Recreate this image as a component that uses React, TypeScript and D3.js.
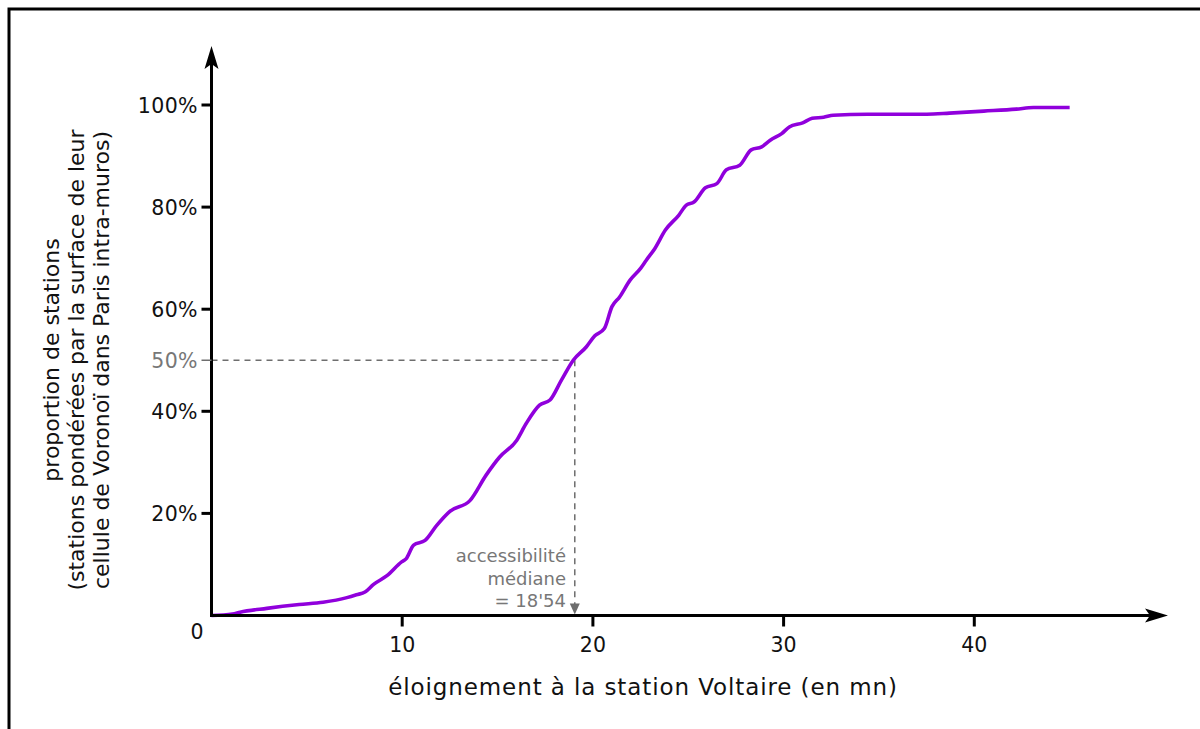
import React, { useEffect, useRef } from "react";
import * as d3 from "d3";

// Data: minutes vs cumulative share (%)
const minutes = [0, 1.1, 1.5, 2.9, 4.6, 5.85, 7.1, 7.6, 8.05, 8.5, 9.2, 9.97, 10.2, 10.6, 11.2, 11.8, 12.5, 13.55, 14.4, 15.1, 16.0, 16.5, 17.2, 17.75, 18.35, 18.97, 19.65, 20.1, 20.6, 21.0, 21.4, 21.95, 22.5, 22.8, 23.25, 23.8, 24.5, 24.9, 25.3, 25.9, 26.5, 27.0, 27.7, 28.3, 28.85, 29.3, 29.9, 30.3, 31.0, 31.5, 32.1, 32.6, 34.4, 37.5, 38.7, 40.5, 42.2, 43.1, 45.0];
const shares = [0, 0.3, 0.65, 1.4, 2.15, 2.6, 3.5, 4.05, 4.6, 6.1, 7.8, 10.5, 11.1, 13.8, 14.7, 17.6, 20.4, 22.5, 27.5, 31.0, 34.3, 37.6, 41.2, 42.2, 46.1, 50.0, 52.6, 54.8, 56.2, 60.5, 62.4, 65.7, 68.0, 69.6, 71.9, 75.5, 78.4, 80.4, 81.0, 83.8, 84.6, 87.3, 88.2, 91.2, 91.8, 93.1, 94.4, 95.7, 96.5, 97.4, 97.6, 98.0, 98.2, 98.2, 98.4, 98.8, 99.2, 99.5, 99.5];

const xTicks = [10, 20, 30, 40];
const yTicks = [20, 40, 60, 80, 100];
const medianShare = 50;
const medianMinutes = 19.05;
const yTitleLines = [
  "proportion de stations",
  "(stations pondérées par la surface de leur",
  "cellule de Voronoï dans Paris intra-muros)",
];
const xTitle = "éloignement à la station Voltaire (en mn)";
const annotationLines = ["accessibilité", "médiane", "= 18'54"];

const W = 1200;
const H = 729;
const FONT = "'DejaVu Sans', Verdana, sans-serif";

export default function App() {
  const ref = useRef<SVGSVGElement | null>(null);

  useEffect(() => {
    const svg = d3.select(ref.current);
    svg.selectAll("*").remove();

    const x = d3.scaleLinear().domain([0, 40]).range([211.5, 974.3]);
    const y = d3.scaleLinear().domain([0, 100]).range([615.5, 105]);
    const x0 = x(0);
    const y0 = y(0);

    // frame
    svg.append("path")
      .attr("d", `M9,${H} L9,9 L${W},9`)
      .attr("fill", "none")
      .attr("stroke", "#000")
      .attr("stroke-width", 3);

    // dashed median guides
    const gray = "#6e6e6e";
    svg.append("line")
      .attr("x1", x0).attr("x2", x(medianMinutes))
      .attr("y1", y(medianShare)).attr("y2", y(medianShare))
      .attr("stroke", gray).attr("stroke-width", 1.5)
      .attr("stroke-dasharray", "6,5");
    svg.append("line")
      .attr("x1", x(medianMinutes)).attr("x2", x(medianMinutes))
      .attr("y1", y(medianShare)).attr("y2", y0 - 10)
      .attr("stroke", gray).attr("stroke-width", 1.5)
      .attr("stroke-dasharray", "6,5");
    const mx = x(medianMinutes);
    svg.append("path")
      .attr("d", `M${mx - 5},${y0 - 12} L${mx + 5},${y0 - 12} L${mx},${y0 - 1} Z`)
      .attr("fill", gray);

    // curve
    const pts: [number, number][] = minutes.map((m, i) => [m, shares[i]]);
    const line = d3.line<[number, number]>()
      .x((d) => x(d[0]))
      .y((d) => y(d[1]))
      .curve(d3.curveMonotoneX);
    svg.append("path")
      .attr("d", line(pts) || "")
      .attr("fill", "none")
      .attr("stroke", "#9000dc")
      .attr("stroke-width", 3.6)
      .attr("stroke-linejoin", "round")
      .attr("stroke-linecap", "butt");

    // axes
    svg.append("line")
      .attr("x1", x0).attr("x2", 1150)
      .attr("y1", y0).attr("y2", y0)
      .attr("stroke", "#000").attr("stroke-width", 3);
    svg.append("path")
      .attr("d", `M1168,${y0} L1145,${y0 - 7} L1150,${y0} L1145,${y0 + 7} Z`)
      .attr("fill", "#000");
    svg.append("line")
      .attr("x1", x0).attr("x2", x0)
      .attr("y1", y0 + 1.5).attr("y2", 64)
      .attr("stroke", "#000").attr("stroke-width", 3);
    svg.append("path")
      .attr("d", `M${x0},46 L${x0 - 7},69 L${x0},64 L${x0 + 7},69 Z`)
      .attr("fill", "#000");

    // x ticks
    xTicks.forEach((t) => {
      svg.append("line")
        .attr("x1", x(t)).attr("x2", x(t))
        .attr("y1", y0).attr("y2", y0 + 11)
        .attr("stroke", "#000").attr("stroke-width", 3);
      svg.append("text")
        .attr("x", x(t)).attr("y", 652)
        .attr("text-anchor", "middle")
        .attr("font-family", FONT).attr("font-size", 20.5)
        .attr("fill", "#111")
        .text(String(t));
    });
    svg.append("text")
      .attr("x", 197).attr("y", 639)
      .attr("text-anchor", "middle")
      .attr("font-family", FONT).attr("font-size", 20.5)
      .attr("fill", "#111")
      .text("0");

    // y ticks
    const yLabelTicks = [...yTicks, medianShare].sort((a, b) => a - b);
    yLabelTicks.forEach((t) => {
      const isMedian = t === medianShare;
      svg.append("line")
        .attr("x1", x0 - 10).attr("x2", x0)
        .attr("y1", y(t)).attr("y2", y(t))
        .attr("stroke", isMedian ? gray : "#000")
        .attr("stroke-width", isMedian ? 1.5 : 3);
      svg.append("text")
        .attr("x", 198).attr("y", y(t) + 7.5)
        .attr("text-anchor", "end")
        .attr("font-family", FONT).attr("font-size", 20.5)
        .attr("letter-spacing", 0.4)
        .attr("fill", isMedian ? "#777" : "#111")
        .text(`${t}%`);
    });

    // annotation
    annotationLines.forEach((s, i) => {
      svg.append("text")
        .attr("x", 566).attr("y", 562 + i * 22.5)
        .attr("text-anchor", "end")
        .attr("font-family", FONT).attr("font-size", 18)
        .attr("fill", "#777")
        .text(s);
    });

    // titles
    svg.append("text")
      .attr("x", 643).attr("y", 695)
      .attr("text-anchor", "middle")
      .attr("font-family", FONT).attr("font-size", 23)
      .attr("letter-spacing", 0.9)
      .attr("fill", "#111")
      .text(xTitle);

    const baselines = [59, 84, 109];
    yTitleLines.forEach((s, i) => {
      svg.append("text")
        .attr("transform", `translate(${baselines[i]},360) rotate(-90)`)
        .attr("text-anchor", "middle")
        .attr("font-family", FONT).attr("font-size", 22)
        .attr("fill", "#111")
        .text(s);
    });
  }, []);

  return (
    <svg
      ref={ref}
      width={W}
      height={H}
      style={{ position: "absolute", left: 0, top: 0, background: "#fff" }}
    />
  );
}
